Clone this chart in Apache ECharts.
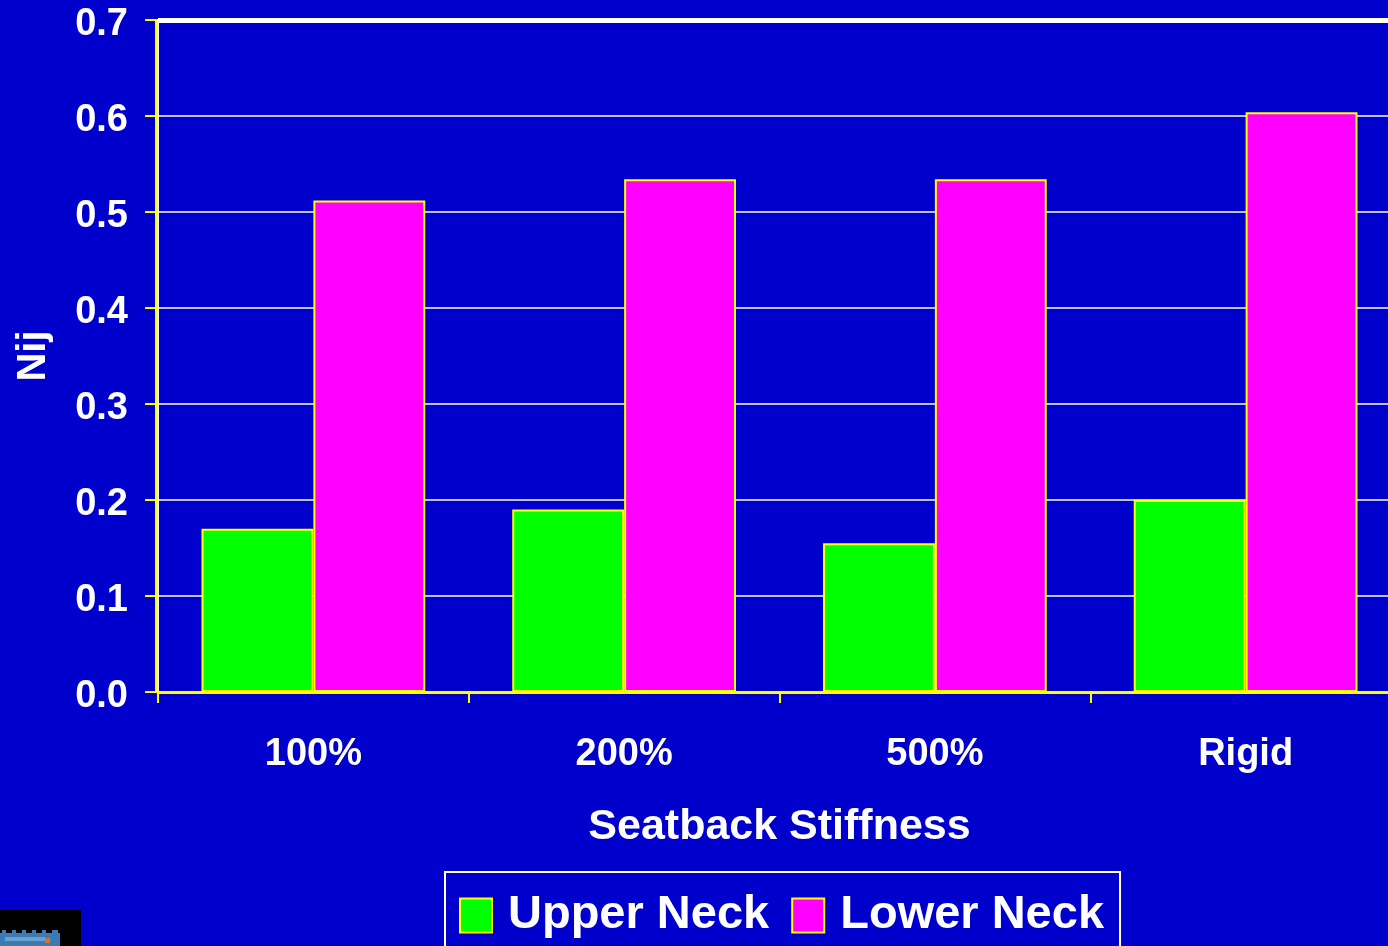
<!DOCTYPE html>
<html>
<head>
<meta charset="utf-8">
<title>Nij vs Seatback Stiffness</title>
<script src="https://cdn.jsdelivr.net/npm/echarts@6/dist/echarts.min.js"></script>
<style>
  html, body { margin: 0; padding: 0; background: #0000cc; }
  #chart { width: 1388px; height: 946px; }
</style>
</head>
<body>
<div id="chart"></div>
<script>
// Seatback stiffness settings on the category axis
const categories = ['100%', '200%', '500%', 'Rigid'];
// Neck injury criterion (Nij) for each setting
const upperNeck = [0.17, 0.19, 0.155, 0.2];
const lowerNeck = [0.512, 0.534, 0.534, 0.604];
// Value axis range and step
const yMin = 0;
const yMax = 0.7;
const yStep = 0.1;

const FONT = '"Liberation Sans", Arial, sans-serif';
const BG = '#0000cc';
const YELLOW = '#ffff00';

const chart = echarts.init(document.getElementById('chart'), null, { renderer: 'canvas' });

chart.setOption({
  backgroundColor: BG,
  animation: false,
  grid: {
    left: 158,
    top: 20,
    bottom: 254,
    width: 1243,
    outerBoundsMode: 'none',
    show: true,
    borderColor: '#ffffff',
    borderWidth: 2,
    backgroundColor: 'transparent'
  },
  legend: {
    data: ['Upper Neck', 'Lower Neck'],
    left: 445,
    top: 872,
    orient: 'horizontal',
    selectedMode: false,
    icon: 'rect',
    itemWidth: 32,
    itemHeight: 34,
    itemGap: 22,
    borderColor: '#ffffff',
    borderWidth: 2,
    padding: [20, 16, 40, 14],
    textStyle: {
      color: '#ffffff',
      fontFamily: FONT,
      fontWeight: 'bold',
      fontSize: 47,
      padding: [0, 0, 0, 11]
    }
  },
  xAxis: {
    type: 'category',
    data: categories,
    boundaryGap: true,
    name: 'Seatback Stiffness',
    nameLocation: 'middle',
    nameGap: 114,
    nameTextStyle: {
      color: '#ffffff',
      fontFamily: FONT,
      fontWeight: 'bold',
      fontSize: 43
    },
    axisLine: { show: true, lineStyle: { color: YELLOW, width: 3 } },
    axisTick: { show: true, length: 11, lineStyle: { color: YELLOW, width: 2 } },
    axisLabel: {
      color: '#ffffff',
      fontFamily: FONT,
      fontWeight: 'bold',
      fontSize: 38,
      margin: 44
    },
    splitLine: { show: false }
  },
  yAxis: {
    type: 'value',
    min: yMin,
    max: yMax,
    interval: yStep,
    offset: 2,
    name: 'Nij',
    nameLocation: 'middle',
    nameRotate: 90,
    nameGap: 102,
    nameTextStyle: {
      color: '#ffffff',
      fontFamily: FONT,
      fontWeight: 'bold',
      fontSize: 40
    },
    axisLine: { show: true, lineStyle: { color: YELLOW, width: 2 } },
    axisTick: { show: true, length: 11, lineStyle: { color: YELLOW, width: 2 } },
    axisLabel: {
      margin: 28,
      formatter: v => '{v|' + v.toFixed(1) + '}',
      rich: {
        v: {
          color: '#ffffff',
          fontFamily: FONT,
          fontWeight: 'bold',
          fontSize: 38,
          padding: [10, 0, 0, 0]
        }
      }
    },
    splitLine: { show: true, lineStyle: { color: '#ffffff', width: 1.5 } }
  },
  series: [
    {
      name: 'Upper Neck',
      type: 'bar',
      data: upperNeck,
      barGap: '0%',
      barCategoryGap: '28%',
      itemStyle: { color: '#00ff00', borderColor: YELLOW, borderWidth: 2 },
      // heavier rule along the top of the plot
      markLine: {
        silent: true,
        symbol: 'none',
        label: { show: false },
        lineStyle: { color: '#ffffff', width: 5, type: 'solid' },
        data: [{ yAxis: yMax }]
      }
    },
    {
      name: 'Lower Neck',
      type: 'bar',
      data: lowerNeck,
      barGap: '0%',
      barCategoryGap: '28%',
      itemStyle: { color: '#ff00ff', borderColor: YELLOW, borderWidth: 2 }
    }
  ],
  graphic: [
    {
      // small logo badge in the lower-left corner
      type: 'group',
      left: 0,
      top: 910,
      children: [
        { type: 'rect', shape: { x: 0, y: 0, width: 81, height: 36 }, style: { fill: '#000000' } },
        { type: 'rect', shape: { x: 0, y: 23, width: 60, height: 13 }, style: { fill: '#3b7bb5' } },
        { type: 'rect', shape: { x: 2, y: 20, width: 4, height: 3 }, style: { fill: '#3b7bb5' } },
        { type: 'rect', shape: { x: 12, y: 20, width: 4, height: 3 }, style: { fill: '#3b7bb5' } },
        { type: 'rect', shape: { x: 22, y: 20, width: 4, height: 3 }, style: { fill: '#3b7bb5' } },
        { type: 'rect', shape: { x: 32, y: 20, width: 4, height: 3 }, style: { fill: '#3b7bb5' } },
        { type: 'rect', shape: { x: 42, y: 20, width: 4, height: 3 }, style: { fill: '#3b7bb5' } },
        { type: 'rect', shape: { x: 52, y: 20, width: 6, height: 3 }, style: { fill: '#3b7bb5' } },
        { type: 'rect', shape: { x: 5, y: 27, width: 40, height: 4 }, style: { fill: '#6aa2cf' } },
        { type: 'rect', shape: { x: 45, y: 28, width: 5, height: 5 }, style: { fill: '#e07020' } },
        { type: 'rect', shape: { x: 56, y: 30, width: 4, height: 6 }, style: { fill: '#3b7bb5' } }
      ]
    }
  ]
});
</script>
</body>
</html>
